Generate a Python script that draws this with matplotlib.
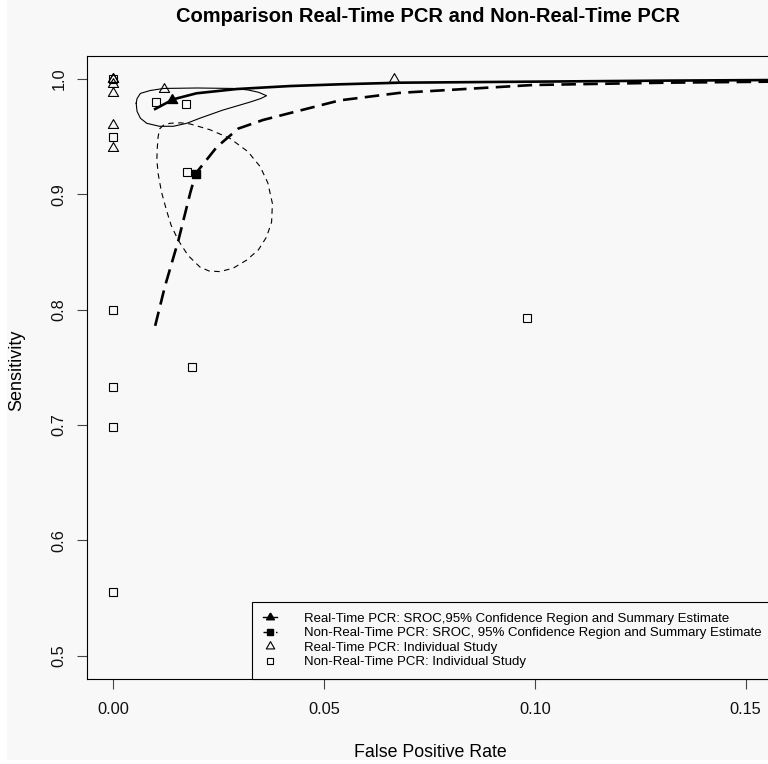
import matplotlib
matplotlib.use("Agg")
import matplotlib.pyplot as plt
from matplotlib.lines import Line2D
from matplotlib.patches import Rectangle

plt.rcParams['font.family'] = ['Liberation Sans', 'DejaVu Sans']

# ---- data ----
rt_fpr = [0.0, 0.0, 0.0, 0.0, 0.0, 0.0, 0.012, 0.0667]
rt_sens = [1.0, 1.0, 0.996, 0.988, 0.960, 0.940, 0.991, 1.0]

nrt_fpr = [0.0, 0.0, 0.0, 0.0, 0.0, 0.0, 0.0101, 0.0172, 0.0175, 0.0188, 0.0981]
nrt_sens = [1.0, 0.950, 0.800, 0.733, 0.698, 0.555, 0.980, 0.978, 0.919, 0.750, 0.793]

rt_sroc_x = [0.0100, 0.0143, 0.0198, 0.0293, 0.0420, 0.0538, 0.068, 0.0996, 0.131, 0.1562]
rt_sroc_y = [0.974, 0.9824, 0.9876, 0.9913, 0.9939, 0.9954, 0.9968, 0.9977, 0.9986, 0.9991]

nrt_sroc_x = [0.0100, 0.0123, 0.0155, 0.0183, 0.0196, 0.0246, 0.0297, 0.0356, 0.0420,
              0.0538, 0.068, 0.0996, 0.131, 0.1562]
nrt_sroc_y = [0.786, 0.820, 0.860, 0.901, 0.918, 0.941, 0.957, 0.9645, 0.9705,
              0.9815, 0.988, 0.9948, 0.9968, 0.9977]

rt_summary = (0.0139, 0.982)
nrt_summary = (0.0196, 0.9177)

rt_conf_x = [0.0055, 0.0057, 0.0065, 0.0088, 0.0120, 0.0200, 0.0285, 0.0320, 0.0345,
             0.0364, 0.0350, 0.0325, 0.0260, 0.0206, 0.0175, 0.0143, 0.0110, 0.0080,
             0.0065, 0.0057, 0.0055]
rt_conf_y = [0.979, 0.983, 0.9875, 0.990, 0.9918, 0.9922, 0.9918, 0.9905, 0.9885,
             0.9855, 0.983, 0.980, 0.973, 0.966, 0.9616, 0.959, 0.959, 0.9616,
             0.966, 0.972, 0.979]

nrt_conf_x = [0.0111, 0.0120, 0.0135, 0.0160, 0.0183, 0.0230, 0.0277, 0.0320, 0.0349,
              0.0367, 0.0378, 0.0376, 0.0364, 0.0345, 0.0317, 0.0285, 0.0254, 0.0228,
              0.0206, 0.0178, 0.0155, 0.0138, 0.0127, 0.0115, 0.0107, 0.0104, 0.0105,
              0.0107, 0.0111]
nrt_conf_y = [0.957, 0.960, 0.9616, 0.9620, 0.961, 0.956, 0.9486, 0.937, 0.924,
              0.910, 0.892, 0.876, 0.863, 0.852, 0.843, 0.836, 0.833, 0.8335,
              0.837, 0.847, 0.860, 0.873, 0.886, 0.902, 0.918, 0.930, 0.940,
              0.950, 0.957]

legend_labels = [
    "Real-Time PCR: SROC,95% Confidence Region and Summary Estimate",
    "Non-Real-Time PCR: SROC, 95% Confidence Region and Summary Estimate",
    "Real-Time PCR: Individual Study",
    "Non-Real-Time PCR: Individual Study",
]

# ---- figure ----
W, H = 768, 764
AX_L, AX_R, AX_T, AX_B = 87, 772, 55.7, 679
bg = '#f8f8f8'
fig = plt.figure(figsize=(W / 100, H / 100), dpi=100, facecolor='white')
fig.add_artist(Rectangle((7 / W, 4 / H), 1, 1, transform=fig.transFigure,
                         facecolor=bg, edgecolor='none', zorder=-10))

ax = fig.add_axes([AX_L / W, (H - AX_B) / H, (AX_R - AX_L) / W, (AX_B - AX_T) / H])
ax.set_facecolor(bg)

tri = [(0, 1), (-0.866, -0.5), (0.866, -0.5), (0, 1)]

# SROC curves
ax.plot(rt_sroc_x, rt_sroc_y, color='black', lw=1.9, solid_joinstyle='round')
ax.plot(nrt_sroc_x, nrt_sroc_y, color='black', lw=1.9, dashes=(5.5, 2.8))

# confidence regions
ax.plot(rt_conf_x, rt_conf_y, color='black', lw=0.8)
ax.plot(nrt_conf_x, nrt_conf_y, color='black', lw=0.8, dashes=(5, 4))

# individual studies
ax.plot(rt_fpr, rt_sens, linestyle='none', marker=tri, ms=8.5, mfc='none',
        mec='black', mew=0.8)
ax.plot(nrt_fpr, nrt_sens, linestyle='none', marker='s', ms=6, mfc='none',
        mec='black', mew=0.8)

# summary estimates
ax.plot([rt_summary[0]], [rt_summary[1]], linestyle='none', marker=tri, ms=8.5,
        mfc='black', mec='black')
ax.plot([nrt_summary[0]], [nrt_summary[1]], linestyle='none', marker='s', ms=6,
        mfc='black', mec='black')

ax.set_xlim(-0.00616, (AX_R - 113) / 4218)
ax.set_ylim(0.4798, 1.0202)
ax.set_xticks([0.0, 0.05, 0.10, 0.15])
ax.set_xticklabels(['0.00', '0.05', '0.10', '0.15'])
ax.set_yticks([0.5, 0.6, 0.7, 0.8, 0.9, 1.0])
ax.set_yticklabels(['0.5', '0.6', '0.7', '0.8', '0.9', '1.0'])

for s in ax.spines.values():
    s.set_linewidth(0.8)
    s.set_color('black')

ax.tick_params(axis='both', length=7.2, width=0.8, color='#444444',
               labelsize=11.8, labelcolor='#111111')
ax.tick_params(axis='x', pad=9.5)
ax.tick_params(axis='y', pad=7.5)
for t in ax.get_yticklabels():
    t.set_rotation(90)
    t.set_va('center')

ax.set_title("Comparison Real-Time PCR and Non-Real-Time PCR",
             fontsize=14.5, fontweight='bold', pad=24)
ax.title.set_position(((428 - AX_L) / (AX_R - AX_L), 1))
ax.set_xlabel("False Positive Rate", fontsize=12.8)
ax.xaxis.label.set_va('baseline')
ax.xaxis.set_label_coords((430 - AX_L) / (AX_R - AX_L),
                          (AX_B - 756.7) / (AX_B - AX_T))
ax.set_ylabel("Sensitivity", fontsize=13)
ax.yaxis.label.set_va('center')
ax.yaxis.set_label_coords((17 - AX_L) / (AX_R - AX_L), 0.496)

handles = [
    Line2D([], [], color='black', lw=1, marker=tri, ms=6.5, mfc='black', mec='black'),
    Line2D([], [], color='black', lw=1, dashes=(2.5, 2), marker='s', ms=4.5,
           mfc='black', mec='black'),
    Line2D([], [], linestyle='none', marker=tri, ms=7, mfc='none', mec='black', mew=0.8),
    Line2D([], [], linestyle='none', marker='s', ms=5, mfc='none', mec='black', mew=0.8),
]
leg = ax.legend(handles, legend_labels, loc='lower right', bbox_to_anchor=(1, 0),
                borderaxespad=0, fontsize=9.5, frameon=True, fancybox=False,
                edgecolor='black', facecolor=bg, framealpha=1,
                handlelength=1.1, handletextpad=2.0, labelspacing=0.17,
                borderpad=0.8)
leg.get_frame().set_linewidth(0.8)

fig.savefig('out.png', dpi=100, facecolor=fig.get_facecolor())
